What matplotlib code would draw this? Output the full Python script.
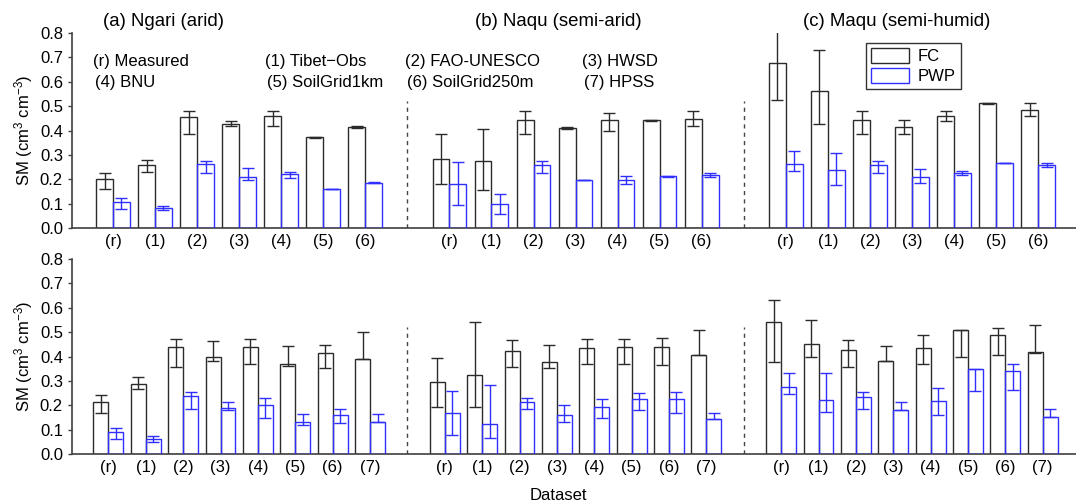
import numpy as np
import matplotlib
matplotlib.use("Agg")
import matplotlib.pyplot as plt
from matplotlib.patches import Patch

plt.rcParams["font.family"] = ["Liberation Sans", "DejaVu Sans"]
plt.rcParams["mathtext.default"] = "regular"

# sites (panels) and dataset labels
sites = ["(a) Ngari (arid)", "(b) Naqu (semi-arid)", "(c) Maqu (semi-humid)"]
top_labels = ["(r)", "(1)", "(2)", "(3)", "(4)", "(5)", "(6)"]
bot_labels = ["(r)", "(1)", "(2)", "(3)", "(4)", "(5)", "(6)", "(7)"]
dataset_names = [["(r) Measured", "(4) BNU"], ["(1) Tibet\u2212Obs", "(5) SoilGrid1km"],
                 ["(2) FAO-UNESCO", "(6) SoilGrid250m"], ["(3) HWSD", "(7) HPSS"]]

# top row: FC / PWP with lower and upper error limits (one row per site)
top_fc = [[0.200, 0.258, 0.457, 0.428, 0.459, 0.373, 0.414],
          [0.284, 0.273, 0.443, 0.410, 0.442, 0.442, 0.449],
          [0.677, 0.561, 0.443, 0.414, 0.461, 0.511, 0.485]]
top_fc_lo = [[0.159, 0.230, 0.387, 0.420, 0.420, 0.371, 0.410],
             [0.182, 0.155, 0.387, 0.405, 0.398, 0.440, 0.418],
             [0.527, 0.428, 0.387, 0.387, 0.438, 0.509, 0.458]]
top_fc_hi = [[0.227, 0.278, 0.479, 0.439, 0.479, 0.375, 0.420],
             [0.387, 0.408, 0.479, 0.414, 0.472, 0.444, 0.480],
             [0.850, 0.729, 0.480, 0.444, 0.480, 0.513, 0.513]]
top_pwp = [[0.105, 0.083, 0.264, 0.211, 0.222, 0.160, 0.186],
           [0.182, 0.097, 0.257, 0.198, 0.196, 0.212, 0.217],
           [0.261, 0.239, 0.257, 0.208, 0.227, 0.265, 0.260]]
top_pwp_lo = [[0.077, 0.075, 0.227, 0.197, 0.205, 0.160, 0.183],
              [0.093, 0.059, 0.227, 0.198, 0.182, 0.211, 0.209],
              [0.234, 0.178, 0.227, 0.185, 0.219, 0.265, 0.250]]
top_pwp_hi = [[0.122, 0.090, 0.275, 0.246, 0.231, 0.160, 0.189],
              [0.269, 0.141, 0.275, 0.198, 0.213, 0.213, 0.226],
              [0.316, 0.308, 0.275, 0.242, 0.234, 0.265, 0.268]]

# bottom row
bot_fc = [[0.212, 0.287, 0.440, 0.398, 0.438, 0.371, 0.413, 0.390],
          [0.294, 0.324, 0.424, 0.377, 0.435, 0.438, 0.440, 0.405],
          [0.542, 0.450, 0.425, 0.382, 0.434, 0.509, 0.487, 0.417]]
bot_fc_lo = [[0.168, 0.265, 0.357, 0.383, 0.371, 0.360, 0.354, 0.388],
             [0.193, 0.193, 0.358, 0.351, 0.368, 0.371, 0.364, 0.405],
             [0.377, 0.397, 0.356, 0.382, 0.371, 0.397, 0.405, 0.414]]
bot_fc_hi = [[0.241, 0.315, 0.470, 0.464, 0.472, 0.443, 0.449, 0.499],
             [0.394, 0.543, 0.468, 0.447, 0.472, 0.472, 0.475, 0.509],
             [0.633, 0.550, 0.469, 0.442, 0.488, 0.509, 0.516, 0.531]]
bot_pwp = [[0.092, 0.060, 0.238, 0.190, 0.201, 0.133, 0.161, 0.133],
           [0.170, 0.123, 0.215, 0.161, 0.191, 0.227, 0.224, 0.142],
           [0.275, 0.220, 0.232, 0.179, 0.216, 0.349, 0.339, 0.153]]
bot_pwp_lo = [[0.062, 0.048, 0.183, 0.182, 0.146, 0.119, 0.126, 0.133],
              [0.079, 0.067, 0.186, 0.133, 0.146, 0.179, 0.167, 0.142],
              [0.245, 0.171, 0.183, 0.179, 0.160, 0.260, 0.264, 0.153]]
bot_pwp_hi = [[0.105, 0.075, 0.256, 0.212, 0.228, 0.164, 0.183, 0.163],
              [0.260, 0.284, 0.228, 0.200, 0.224, 0.252, 0.253, 0.168],
              [0.332, 0.334, 0.254, 0.213, 0.272, 0.349, 0.368, 0.183]]

FC_COLOR = "#2b2b2b"
PWP_COLOR = "#2f2fff"
W = 0.4


def draw_row(ax, labels, fc, fc_lo, fc_hi, pwp, pwp_lo, pwp_hi, xmax):
    n = len(labels)
    step = n + 1
    ticks, ticklabels = [], []
    for p in range(3):
        x = np.arange(n) + p * step
        f, fl, fh = np.array(fc[p]), np.array(fc_lo[p]), np.array(fc_hi[p])
        w, wl, wh = np.array(pwp[p]), np.array(pwp_lo[p]), np.array(pwp_hi[p])
        ax.bar(x - W / 2, f, W, facecolor="none", edgecolor=FC_COLOR, lw=1.0, zorder=2)
        ax.bar(x + W / 2, w, W, facecolor="none", edgecolor=PWP_COLOR, lw=1.0, zorder=3)
        ax.errorbar(x - W / 2, f, yerr=[f - fl, fh - f], fmt="none", ecolor=FC_COLOR,
                    elinewidth=1.0, capsize=4.5, capthick=1.0, zorder=4)
        ax.errorbar(x + W / 2, w, yerr=[w - wl, wh - w], fmt="none", ecolor=PWP_COLOR,
                    elinewidth=1.0, capsize=4.5, capthick=1.0, zorder=4)
        ticks += list(x)
        ticklabels += labels
        if p < 2:
            ax.vlines((p + 1) * step - 1, 0, 0.52, colors="#444444", lw=1.0,
                      linestyles=(0, (3, 3)), zorder=1)
    ax.set_xticks(ticks)
    ax.set_xticklabels(ticklabels, fontsize=12)
    ax.tick_params(axis="x", length=0, pad=4.5)
    ax.tick_params(axis="y", direction="out", length=3, width=1.0, labelsize=12,
                   color="#404040")
    ax.set_xlim(-0.975, xmax)
    ax.set_ylim(0, 0.8)
    ax.set_yticks(np.arange(0, 0.81, 0.1))
    ax.yaxis.set_major_formatter(matplotlib.ticker.FormatStrFormatter("%.1f"))
    for s in ["top", "right"]:
        ax.spines[s].set_visible(False)
    for s in ["left", "bottom"]:
        ax.spines[s].set_color("#404040")
        ax.spines[s].set_linewidth(1.2)
    ax.set_ylabel("SM (cm$^3$ cm$^{-3}$)", fontsize=12)
    ax.yaxis.set_label_coords(-0.037, 0.5)


fig = plt.figure(figsize=(10.76, 5.04), dpi=100)
ax1 = fig.add_axes([0.0669, 0.5476, 0.9331, 0.3869])
ax2 = fig.add_axes([0.0669, 0.0992, 0.9331, 0.3869])

draw_row(ax1, top_labels, top_fc, top_fc_lo, top_fc_hi, top_pwp, top_pwp_lo, top_pwp_hi, 22.9)
draw_row(ax2, bot_labels, bot_fc, bot_fc_lo, bot_fc_hi, bot_pwp, bot_pwp_lo, bot_pwp_hi, 25.89)

# panel titles
for xc, name in zip([1.21, 10.6, 18.63], sites):
    ax1.text(xc, 0.848, name, ha="center", va="center", fontsize=13.4, clip_on=False)

# dataset key
for xl, pair in zip([-0.48, 3.61, 6.94, 11.16], dataset_names):
    ax1.text(xl, 0.685, pair[0], ha="left", va="center", fontsize=12)
    ax1.text(xl + 0.05, 0.596, pair[1], ha="left", va="center", fontsize=12)

handles = [Patch(facecolor="white", edgecolor=FC_COLOR, lw=1.0, label="FC"),
           Patch(facecolor="white", edgecolor=PWP_COLOR, lw=1.0, label="PWP")]
leg = ax1.legend(handles=handles, loc="upper left", bbox_to_anchor=(0.791, 0.95),
                 fontsize=12, fancybox=False, framealpha=1, edgecolor="#333333",
                 handlelength=2.3, handleheight=1.0, handletextpad=0.5,
                 borderpad=0.3, labelspacing=0.25, borderaxespad=0)
leg.get_frame().set_linewidth(1.0)

fig.text(558 / 1076, 9 / 504, "Dataset", ha="center", va="center", fontsize=12)

fig.savefig("out.png", dpi=100)
